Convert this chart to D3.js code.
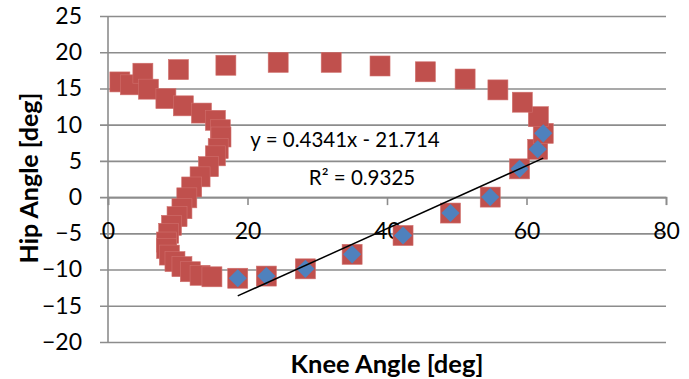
<!DOCTYPE html>
<html>
<head>
<meta charset="utf-8">
<script src="https://cdn.jsdelivr.net/npm/d3@7"></script>
<style>
  body { margin: 0; background: #fff; }
  text { font-family: Lato, "Open Sans", sans-serif; fill: #000; }
</style>
</head>
<body>
<div id="chart"></div>
<script>
/* knee vs hip angle, gait cycle scatter */

const width = 689,
    height = 379,
    margin = ({ top: 16, right: 23, bottom: 37, left: 108 });

// full cycle (red squares)
const kneeAll = [1.7, 3.2, 5.0, 5.8, 8.3, 10.8, 13.4, 15.4, 16.1, 16.2, 15.8, 15.4, 14.4, 13.2, 12.0,
    11.3, 10.6, 9.9, 9.1, 8.7, 8.4, 8.4, 8.8, 9.6, 10.6, 11.8, 13.2, 14.9,
    18.6, 22.7, 28.3, 35.0, 42.3, 49.1, 54.8, 59.0, 61.6, 62.4,
    61.7, 59.4, 55.9, 51.2, 45.5, 39.0, 32.0, 24.4, 16.9, 10.1];
const hipAll = [15.9, 15.5, 17.1, 14.9, 13.6, 12.6, 11.6, 10.6, 9.3, 8.3, 6.7, 5.7, 4.2, 2.8, 1.4,
    -0.1, -1.6, -2.7, -3.9, -5.0, -6.2, -7.1, -8.0, -8.9, -9.6, -10.3, -10.8, -11.0,
    -11.2, -10.9, -9.9, -7.9, -5.3, -2.2, 0.0, 3.9, 6.6, 8.8,
    11.1, 13.1, 14.8, 16.3, 17.3, 18.1, 18.6, 18.6, 18.2, 17.6];

// fitted stance portion (blue diamonds)
const kneeFit = [18.6, 22.7, 28.3, 35.0, 42.3, 49.1, 54.8, 59.0, 61.6, 62.4];
const hipFit = [-11.2, -10.9, -9.9, -7.9, -5.3, -2.2, 0.0, 3.9, 6.6, 8.8];

const slope = 0.4341, intercept = -21.714, r2 = 0.9325;

const xTicks = [0, 20, 40, 60, 80];
const yTicks = [-20, -15, -10, -5, 0, 5, 10, 15, 20, 25];

const svg = d3.select("#chart")
    .append("svg")
    .attr("width", width)
    .attr("height", height);

let x = d3.scaleLinear()
    .domain([0, 80])
    .range([margin.left, width - margin.right]);

let y = d3.scaleLinear()
    .domain([-20, 25])
    .range([height - margin.bottom, margin.top]);

const grey = "#8c8c8c";

// horizontal gridlines + y ticks
svg.append("g")
    .attr("transform", `translate(${margin.left},0)`)
    .call(d3.axisLeft(y).tickValues(yTicks).tickSizeOuter(0)
        .tickSizeInner(-(width - margin.right - margin.left)).tickPadding(26))
    .call(g => g.select(".domain").remove())
    .call(g => g.selectAll(".tick line").attr("stroke", grey).attr("stroke-width", 1.6).attr("x1", -8))
    .call(g => g.selectAll(".tick text").attr("font-size", 23).attr("font-family", "Lato"));

// vertical axis line
svg.append("line")
    .attr("x1", x(0)).attr("x2", x(0))
    .attr("y1", y(25)).attr("y2", y(-20))
    .attr("stroke", grey).attr("stroke-width", 1.6);

// x axis at y = 0
svg.append("g")
    .attr("transform", `translate(0,${y(0)})`)
    .call(d3.axisBottom(x).tickValues(xTicks).tickSizeOuter(0).tickSize(8).tickPadding(18))
    .call(g => g.select(".domain").attr("stroke", grey).attr("stroke-width", 1.6))
    .call(g => g.selectAll(".tick line").attr("stroke", grey).attr("stroke-width", 1.6))
    .call(g => g.selectAll(".tick text").attr("font-size", 23).attr("font-family", "Lato"));

// red squares
const sq = 20;
svg.append("g")
    .selectAll("rect")
    .data(d3.range(kneeAll.length))
    .join("rect")
    .attr("x", i => x(kneeAll[i]) - sq / 2)
    .attr("y", i => y(hipAll[i]) - sq / 2)
    .attr("width", sq)
    .attr("height", sq)
    .attr("fill", "#C0504D")
    .attr("stroke", "#d0706d")
    .attr("stroke-width", 0.6);

// blue diamonds
const diamond = d3.symbol().type(d3.symbolDiamond2).size(210);
svg.append("g")
    .selectAll("path")
    .data(d3.range(kneeFit.length))
    .join("path")
    .attr("transform", i => `translate(${x(kneeFit[i])},${y(hipFit[i])})`)
    .attr("d", diamond)
    .attr("fill", "#4F81BD");

// linear trendline over fitted range
const xr = d3.extent(kneeFit);
svg.append("path")
    .datum(xr)
    .attr("d", d3.line().x(d => x(d)).y(d => y(slope * d + intercept)))
    .attr("stroke", "#000")
    .attr("stroke-width", 1.5)
    .attr("fill", "none");

svg.append("text")
    .attr("x", 345).attr("y", 147)
    .attr("text-anchor", "middle")
    .attr("font-size", 20.5)
    .text(`y = ${slope}x - ${Math.abs(intercept)}`);

svg.append("text")
    .attr("x", 362).attr("y", 185)
    .attr("text-anchor", "middle")
    .attr("font-size", 20.5)
    .text(`R² = ${r2}`);

// axis titles
svg.append("text")
    .attr("x", (margin.left + width - margin.right) / 2)
    .attr("y", 373)
    .attr("text-anchor", "middle")
    .attr("font-size", 25.5)
    .attr("font-weight", "bold")
    .text("Knee Angle [deg]");

svg.append("text")
    .attr("transform", "rotate(-90)")
    .attr("x", -178)
    .attr("y", 38)
    .attr("text-anchor", "middle")
    .attr("font-size", 25)
    .attr("font-weight", "bold")
    .text("Hip Angle [deg]");
</script>
</body>
</html>
